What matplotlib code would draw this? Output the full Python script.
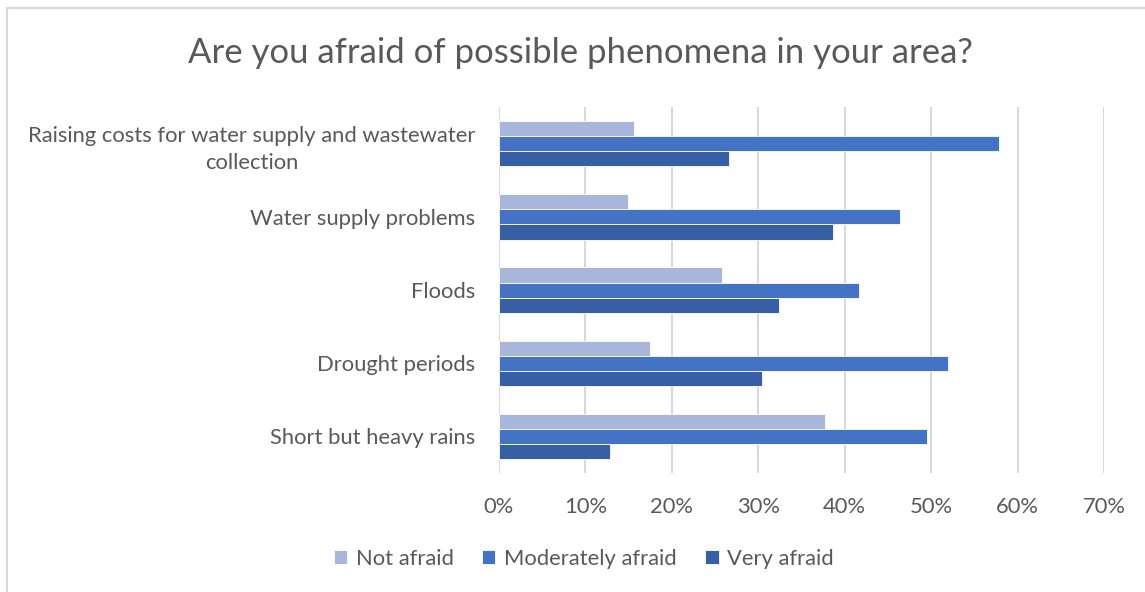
import numpy as np
import matplotlib.pyplot as plt
from matplotlib.patches import Rectangle

plt.rcParams['font.family'] = ['Lato', 'DejaVu Sans']

# Survey answers, share of respondents per phenomenon (top to bottom)
phenomena = [
    "Raising costs for water supply and wastewater\ncollection",
    "Water supply problems",
    "Floods",
    "Drought periods",
    "Short but heavy rains",
]
not_afraid = [15.6, 14.9, 25.8, 17.5, 37.7]
moderately_afraid = [57.8, 46.4, 41.7, 52.0, 49.5]
very_afraid = [26.6, 38.6, 32.4, 30.4, 12.8]

series = ["Not afraid", "Moderately afraid", "Very afraid"]
colors = ["#A9B6DB", "#4472C4", "#365FA4"]
text_color = "#595959"

fig = plt.figure(figsize=(11.45, 5.92), dpi=100)
ax = fig.add_axes([0.4358, 0.201, 0.9642 - 0.4358, 0.618])

y = np.arange(len(phenomena))
h = 0.207
for i, (vals, name, c) in enumerate(zip([not_afraid, moderately_afraid, very_afraid], series, colors)):
    ax.barh(y - h + i * h, vals, height=h, color=c, label=name,
            edgecolor="white", linewidth=0.6, zorder=3)

ax.set_xlim(0, 70)
ax.set_ylim(len(phenomena) - 0.5, -0.5)
ax.set_xticks(np.arange(0, 71, 10))
ax.set_xticklabels([f"{v}%" for v in range(0, 71, 10)])
ax.set_yticks(y)
ax.set_yticklabels(phenomena, multialignment="center", linespacing=1.45)
ax.tick_params(axis="both", length=0, labelsize=15.8, colors=text_color)
ax.tick_params(axis="x", pad=17)
ax.tick_params(axis="y", pad=17)
ax.grid(axis="x", color="#D9D9D9", linewidth=1.5, zorder=0)
for s in ax.spines.values():
    s.set_visible(False)

fig.text(0.507, 0.91, "Are you afraid of possible phenomena in your area?",
         ha="center", va="center", fontsize=25, color=text_color)

fig.legend(loc="center", bbox_to_anchor=(0.51, 0.056), ncol=3, frameon=False,
           fontsize=15.8, labelcolor=text_color, handlelength=0.6, handleheight=0.6,
           handletextpad=0.4, columnspacing=1.3)

# chart frame
fig.patches.append(Rectangle((7 / 1145, -0.1), 1.2, 1 - 7.5 / 592 + 0.1,
                             transform=fig.transFigure, fill=False,
                             edgecolor="#D9D9D9", linewidth=1.5))

fig.savefig("out.png", dpi=100)
